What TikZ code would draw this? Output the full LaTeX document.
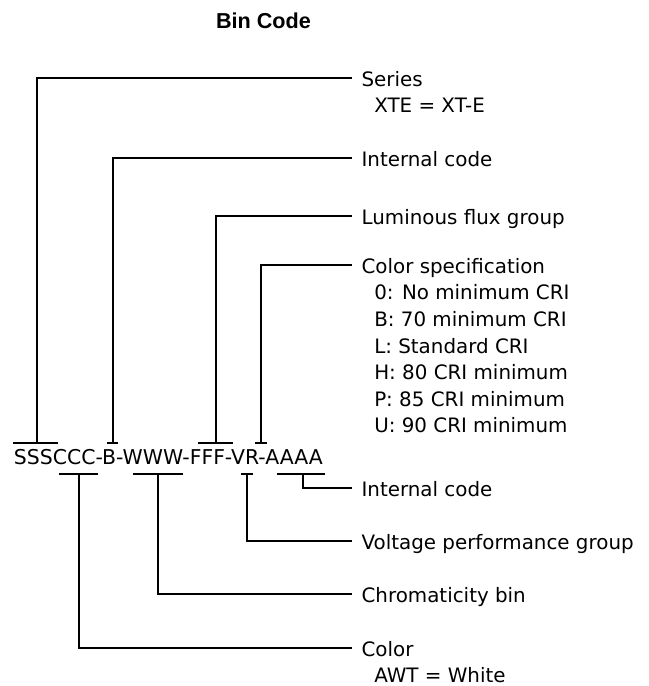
\documentclass[tikz,border=0pt]{standalone}
\usepackage{fontspec}
\setmainfont{DejaVu Sans}
\newfontfamily\titlefont{Liberation Sans}
\usetikzlibrary{positioning}

\tikzset{
  lead/.style={line width=1.5pt},
  lbl/.style={anchor=west, inner xsep=7pt, inner ysep=0pt, text height=12.6pt,
    text depth=0pt, font=\fontsize{14.9}{19.9}\selectfont},
  sublbl/.style={anchor=base west, inner sep=0pt,
    font=\fontsize{14.9}{19.9}\selectfont},
}

\begin{document}
\begin{tikzpicture}[x=0.75pt,y=-0.75pt]
\useasboundingbox (0,0) rectangle (649,686);

\node[anchor=base, inner sep=0pt, font=\titlefont\bfseries\fontsize{16.2}{20}\selectfont]
  (title) at (263.5,28) {Bin Code};

% the code itself
\node[anchor=base west, inner sep=0pt, font=\fontsize{15.3}{18}\selectfont]
  (code) at (13.7,464) {SSSCCC-B-WWW-FFF-VR-AAAA};

% bars over and under the letters
\coordinate (sss) at (37,443);
\coordinate (b)   at (113,443);
\coordinate (fff) at (216,443);
\coordinate (v)   at (261,443);
\coordinate (ccc) at (79,474);
\coordinate (www) at (158,474);
\coordinate (r)   at (247,474);
\coordinate (aaaa) at (303,474);
\foreach \a/\b/\y in {13/58/443,107/118/443,198/233/443,255/267/443,
                      59/98/474,133/183/474,241/253/474,277/325/474}
  \draw[lead] (\a,\y) -- (\b,\y);

% labels
\node[lbl] (series)  at (352,78)  {Series};
\node[sublbl] (seriesval) at ([xshift=16.5pt,yshift=-19.9pt]series.base west) {XTE = XT-E};
\node[lbl] (intcode) at (352,158) {Internal code};
\node[lbl] (flux)    at (352,216) {Luminous flux group};
\node[lbl] (cspec)   at (352,265) {Color specification};
\node[sublbl] (cspecval) at ([xshift=16.5pt,yshift=-19.9pt]cspec.base west)
  {\begin{tabular}[t]{@{}l@{}}0: No minimum CRI\\B: 70 minimum CRI\\L: Standard CRI\\
   H: 80 CRI minimum\\P: 85 CRI minimum\\U: 90 CRI minimum\end{tabular}};
\node[lbl] (intcodeb) at (352,488) {Internal code};
\node[lbl] (volt)    at (352,541) {Voltage performance group};
\node[lbl] (chroma)  at (352,594) {Chromaticity bin};
\node[lbl] (color)   at (352,648) {Color};
\node[sublbl] (colorval) at ([xshift=16.5pt,yshift=-19.9pt]color.base west) {AWT = White};

% leaders
\draw[lead] (sss) |- (series.west);
\draw[lead] (b) |- (intcode.west);
\draw[lead] (fff) |- (flux.west);
\draw[lead] (v) |- (cspec.west);
\draw[lead] (aaaa) |- (intcodeb.west);
\draw[lead] (r) |- (volt.west);
\draw[lead] (www) |- (chroma.west);
\draw[lead] (ccc) |- (color.west);

\end{tikzpicture}
\end{document}
